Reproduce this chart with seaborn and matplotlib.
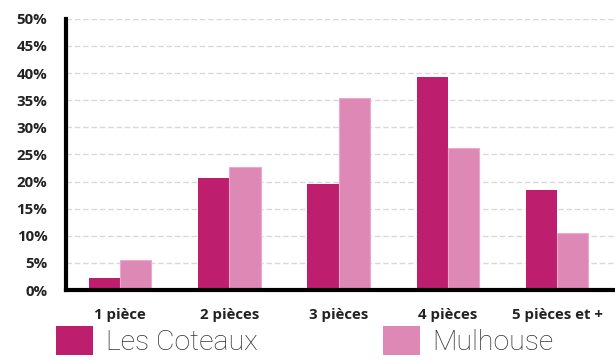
import matplotlib
matplotlib.use("Agg")
import matplotlib.pyplot as plt
import seaborn as sns
import pandas as pd
from matplotlib.patches import Patch

categories = ["1 pièce", "2 pièces", "3 pièces", "4 pièces", "5 pièces et +"]
series_names = ["Les Coteaux", "Mulhouse"]
coteaux = [2.3, 20.7, 19.5, 39.3, 18.4]
mulhouse = [5.5, 22.7, 35.4, 26.1, 10.6]
y_ticks = [0, 5, 10, 15, 20, 25, 30, 35, 40, 45, 50]
y_labels = [f"{v}%" for v in y_ticks]
colors = ["#BD1F6E", "#DE88B5"]

df = pd.DataFrame({
    "cat": categories * 2,
    "series": [series_names[0]] * len(categories) + [series_names[1]] * len(categories),
    "val": coteaux + mulhouse,
})

sns.set_theme(style="white")
plt.rcParams["font.family"] = ["Open Sans", "DejaVu Sans"]

fig = plt.figure(figsize=(6.15, 3.6), dpi=100)
ax = fig.add_axes([65.5 / 615, 70 / 360, 1 - 65.5 / 615, (290.5 - 19.3) / 360])

sns.barplot(data=df, x="cat", y="val", hue="series", palette=colors,
            width=0.57, saturation=1, ax=ax, legend=False,
            edgecolor="none", linewidth=0)
for bar in ax.patches[len(categories):]:
    bar.set_edgecolor("#EBA9CB")
    bar.set_linewidth(0.8)

ax.set_ylim(0, 50)
ax.set_xlim(-0.5, 4.53)
ax.set_yticks(y_ticks)
ax.set_yticklabels(y_labels, fontsize=10.8, fontweight="bold", color="#222222")
ax.set_xticks(range(len(categories)))
ax.set_xticklabels(categories, fontsize=10.8, fontweight="bold", color="#222222")
ax.tick_params(axis="y", length=0, pad=13)
ax.tick_params(axis="x", length=0, pad=13)
ax.set_xlabel("")
ax.set_ylabel("")

ax.yaxis.grid(True, color="#D9D9D9", linestyle=(0, (4, 2)), linewidth=1.0)
ax.set_axisbelow(True)
ax.xaxis.grid(False)
for s in ["top", "right"]:
    ax.spines[s].set_visible(False)
for s in ["left", "bottom"]:
    ax.spines[s].set_color("black")
    ax.spines[s].set_linewidth(3.0)
    ax.spines[s].set_capstyle("projecting")
ax.spines["left"].set_zorder(5)

handles = [Patch(facecolor=colors[0], edgecolor="none"),
           Patch(facecolor=colors[1], edgecolor="none")]
fig.legend(handles, series_names, loc="upper left",
           bbox_to_anchor=(56 / 615, 1 - 326 / 360), ncol=2, frameon=False,
           prop={"family": ["Roboto", "DejaVu Sans"], "weight": "light", "size": 20.5},
           handlelength=1.3, handleheight=1.2, handletextpad=0.45,
           columnspacing=4.4, borderpad=0, borderaxespad=0, labelcolor="#333333")

fig.savefig("out.png", dpi=100)
